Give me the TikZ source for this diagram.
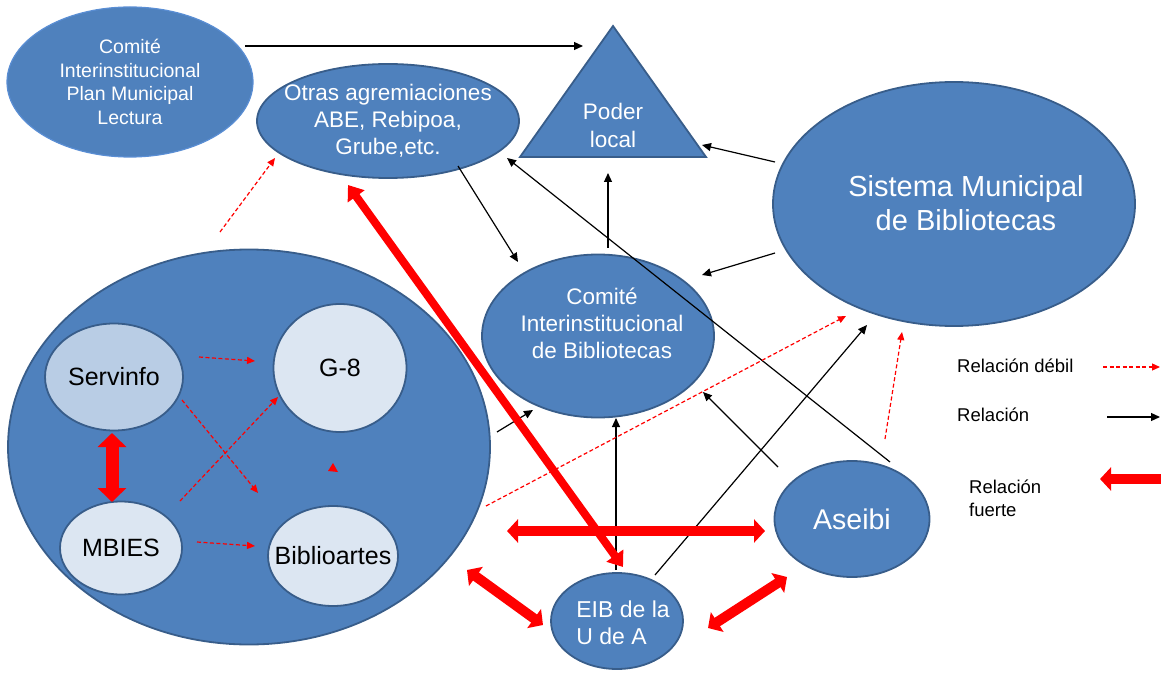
\documentclass[tikz,border=0pt]{standalone}
\usepackage{fontspec}
\setmainfont{Liberation Sans}
\usetikzlibrary{arrows.meta,calc,shapes.geometric}
\definecolor{obl}{HTML}{4F81BD}
\definecolor{obd}{HTML}{385D8A}
\definecolor{olt}{HTML}{B9CDE5}
\definecolor{oxl}{HTML}{DCE6F2}
\definecolor{cpmb}{HTML}{5A8ED4}
\definecolor{rd}{HTML}{FF0000}
\newcommand\myfs[2]{\fontsize{#1}{#2}\selectfont}
\begin{document}
\begin{tikzpicture}[x=1pt,y=-1pt,
  blob/.style={ellipse, fill=obl, draw=obd, line width=1.8pt, inner sep=0pt, text=white, align=center},
  lightblob/.style={blob, fill=oxl, text=black, font=\myfs{25}{30}},
  rel/.style={draw=black, line width=1.2pt, -{Triangle[length=9pt,width=8pt]}},
  weak/.style={draw=rd, line width=1.2pt, dash pattern=on 4pt off 2.5pt, -{Triangle[length=8pt,width=7pt]}},
  strong/.style={draw=rd, line width=10pt, {Triangle[length=11pt,width=23pt]}-{Triangle[length=11pt,width=23pt]}},
  legtext/.style={inner sep=0pt, font=\myfs{18.5}{23}, align=left}
]
\useasboundingbox (0,0) rectangle (1161,676);

% nodes
\node[blob, draw=cpmb, line width=1.2pt, minimum width=246pt, minimum height=150pt, font=\myfs{19.5}{23.5}] (cpm) at (130,82) {Comité\\Interinstitucional\\Plan Municipal\\Lectura};
\node[blob, inner xsep=-25pt, minimum width=262pt, minimum height=114pt, font=\myfs{22.5}{27}] (oa) at (388,121) {Otras agremiaciones\\ABE, Rebipoa,\\Grube,etc.};
\draw[fill=obl, draw=obd, line width=1.8pt, line join=miter] (613,26) -- (520,157) -- (706,157) -- cycle;
\node[text=white, inner sep=0pt, font=\myfs{22.5}{28}, align=center] (poder) at (613,125) {Poder\\local};
\node[blob, minimum width=362pt, minimum height=244pt] (smb) at (954,204) {};
\node[text=white, inner sep=0pt, font=\myfs{29}{34}, align=center] (smbt) at (966,203) {Sistema Municipal\\de Bibliotecas};
\node[blob, minimum width=232pt, minimum height=163pt] (cib) at (598,336) {};
\node[text=white, inner sep=0pt, font=\myfs{22.5}{27}, align=center] (cibt) at (602,323) {Comité\\Interinstitucional\\de Bibliotecas};
\node[blob, minimum width=482pt, minimum height=395pt] (big) at (249,447) {};
\node[lightblob, fill=olt, minimum width=138pt, minimum height=107pt] (serv) at (114,377) {Servinfo};
\node[lightblob, minimum width=122pt, minimum height=93pt] (mb) at (121,548) {MBIES};
\node[lightblob, minimum width=133pt, minimum height=128pt] (g8) at (340,368) {G-8};
\node[lightblob, inner xsep=-25pt, minimum width=130pt, minimum height=100pt] (bib) at (333,556) {Biblioartes};
\node[blob, minimum width=155pt, minimum height=116pt, font=\myfs{28.5}{34}] (ase) at (852,519) {Aseibi};
\node[blob, minimum width=132pt, minimum height=96pt] (eib) at (617,621) {};
\node[text=white, inner sep=0pt, font=\myfs{23}{27}, align=left] (eibt) at (623,623) {EIB de la\\U de A};

% normal relations
\draw[rel] ($(cpm.center)+(115,-36)$) -- ($(poder.center)+(-30,-79)$);
\draw[rel] ($(smb.center)+(-179,-42)$) -- ($(poder.center)+(89,20)$);
\draw[rel] ($(smb.center)+(-179,49)$) -- ($(cib.center)+(104,-61)$);
\draw[rel] ($(cib.center)+(10,-88)$) -- ($(poder.center)+(-5,48)$);
\draw[rel] ($(oa.center)+(70,45)$) -- ($(cib.center)+(-80,-74)$);
\draw[rel] ($(ase.center)+(38,-57)$) -- ($(oa.center)+(119,37)$);
\draw[rel] ($(big.center)+(248,-15)$) -- ($(cib.center)+(-65,74)$);
\draw[rel] ($(eib.center)+(-1,-51)$) -- ($(cib.center)+(18,82)$);
\draw[rel] ($(ase.center)+(-74,-52)$) -- ($(cib.center)+(105,56)$);
\draw[rel] ($(eib.center)+(38,-46)$) -- ($(smb.center)+(-87,121)$);

% weak relations
\draw[weak] ($(serv.center)+(85,-20)$) -- ($(g8.center)+(-85,-7)$);
\draw[weak] ($(serv.center)+(68,23)$) -- ($(bib.center)+(-75,-63)$);
\draw[weak] ($(mb.center)+(59,-47)$) -- ($(g8.center)+(-62,29)$);
\draw[weak] ($(mb.center)+(76,-6)$) -- ($(bib.center)+(-78,-10)$);
\draw[weak] ($(big.center)+(237,59)$) -- ($(smb.center)+(-108,112)$);
\draw[weak] ($(ase.center)+(33,-80)$) -- ($(smb.center)+(-52,128)$);
\draw[weak] ($(big.center)+(-29,-215)$) -- ($(oa.center)+(-113,37)$);
\fill[rd] (333,463) -- (328,471) -- (338,472) -- cycle;

% strong relations
\draw[strong, line width=13pt, {Triangle[length=14pt,width=28pt]}-{Triangle[length=14pt,width=28pt]}] ($(serv.center)+(-2,56)$) -- ($(mb.center)+(-9,-46)$);
\draw[strong, line width=8pt, {Triangle[length=14pt,width=20pt]}-{Triangle[length=14pt,width=20pt]}] ($(oa.center)+(-40,64)$) -- ($(eib.center)+(6,-54)$);
\draw[strong] ($(big.center)+(258,84)$) -- ($(ase.center)+(-87,12)$);
\draw[strong] ($(big.center)+(218,123)$) -- ($(eib.center)+(-74,4)$);
\draw[strong] ($(eib.center)+(91,7)$) -- ($(ase.center)+(-65,58)$);

% legend
\node[legtext, anchor=base west] (l1) at (957,372) {Relación débil};
\node[legtext, anchor=base west] (l2) at (957,421) {Relación};
\node[legtext, anchor=west] (l3) at (969,498) {Relación\\fuerte};
\coordinate (a1) at (1103,367); \coordinate (b1) at (1160,367);
\coordinate (a2) at (1107,417); \coordinate (b2) at (1160,417);
\coordinate (a3) at (1165,479); \coordinate (b3) at (1100,479);
\draw[weak] (a1) -- (b1);
\draw[rel] (a2) -- (b2);
\draw[draw=rd, line width=10pt, -{Triangle[length=11pt,width=23pt]}] (a3) -- (b3);
\end{tikzpicture}
\end{document}
